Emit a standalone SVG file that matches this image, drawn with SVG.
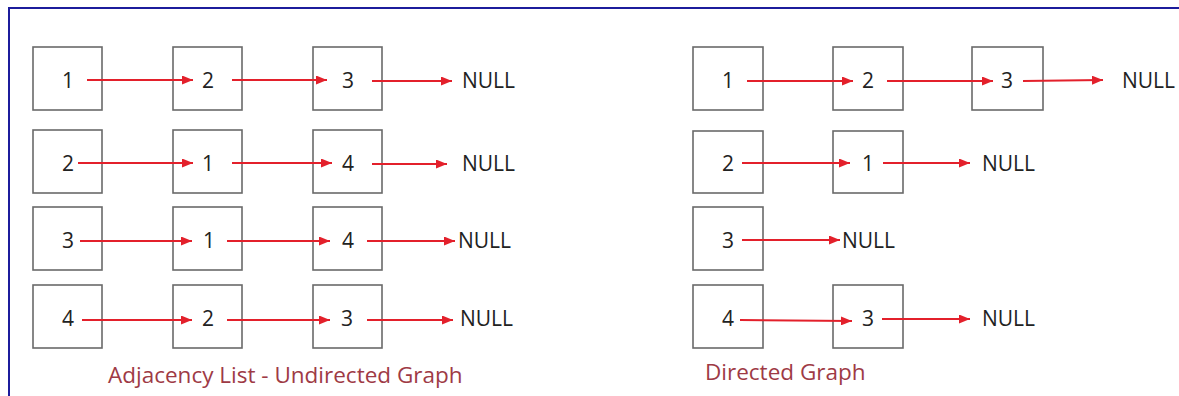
<svg xmlns="http://www.w3.org/2000/svg" width="1179" height="396" viewBox="0 0 1179 396">
<defs>
<marker id="ah" markerWidth="11" markerHeight="9" refX="11" refY="4.5" orient="auto" markerUnits="userSpaceOnUse">
<path d="M0,0 L11,4.5 L0,9 Z" fill="#e3202b"/>
</marker>
<style>
.box{fill:#fff;stroke:#6a6a6a;stroke-width:1.6}
.num{font-family:"Open Sans","Liberation Sans",sans-serif;font-size:21px;fill:#222;text-anchor:middle}
.null{font-family:"Open Sans","Liberation Sans",sans-serif;font-size:21px;fill:#222}
.cap{font-family:"Open Sans","Liberation Sans",sans-serif;font-size:22.5px;fill:#9e3a45}
.arr{stroke:#e3202b;stroke-width:2;fill:none;marker-end:url(#ah)}
</style>
</defs>
<rect width="1179" height="396" fill="#fff"/>
<path d="M9,396 V8 H1179" fill="none" stroke="#1c1c9c" stroke-width="2"/>

<g id="l-r1">
<rect class="box" x="33" y="47" width="69" height="63"/><text class="num" x="68" y="88">1</text>
<rect class="box" x="173" y="47" width="69" height="63"/><text class="num" x="208" y="88">2</text>
<rect class="box" x="313" y="47" width="69" height="63"/><text class="num" x="348" y="88">3</text>
<text class="null" x="462" y="88">NULL</text>
</g>
<g id="l-r2">
<rect class="box" x="33" y="130" width="69" height="63"/><text class="num" x="68" y="171">2</text>
<rect class="box" x="173" y="130" width="69" height="63"/><text class="num" x="208" y="171">1</text>
<rect class="box" x="313" y="130" width="69" height="63"/><text class="num" x="348" y="171">4</text>
<text class="null" x="462" y="171">NULL</text>
</g>
<g id="l-r3">
<rect class="box" x="33" y="207" width="69" height="63"/><text class="num" x="68" y="248">3</text>
<rect class="box" x="173" y="207" width="69" height="63"/><text class="num" x="209" y="248">1</text>
<rect class="box" x="313" y="207" width="69" height="63"/><text class="num" x="348" y="248">4</text>
<text class="null" x="458" y="248">NULL</text>
</g>
<g id="l-r4">
<rect class="box" x="33" y="285" width="69" height="63"/><text class="num" x="68" y="326">4</text>
<rect class="box" x="173" y="285" width="69" height="63"/><text class="num" x="208" y="326">2</text>
<rect class="box" x="313" y="285" width="69" height="63"/><text class="num" x="347" y="326">3</text>
<text class="null" x="460" y="326">NULL</text>
</g>

<g id="r-r1">
<rect class="box" x="693" y="47" width="70" height="63"/><text class="num" x="728" y="88">1</text>
<rect class="box" x="833" y="47" width="70" height="63"/><text class="num" x="868" y="88">2</text>
<rect class="box" x="972" y="47" width="71" height="63"/><text class="num" x="1007" y="88">3</text>
<text class="null" x="1122" y="88">NULL</text>
</g>
<g id="r-r2">
<rect class="box" x="693" y="131" width="70" height="62"/><text class="num" x="728" y="171">2</text>
<rect class="box" x="833" y="131" width="70" height="62"/><text class="num" x="868" y="171">1</text>
<text class="null" x="982" y="171">NULL</text>
</g>
<g id="r-r3">
<rect class="box" x="693" y="207" width="70" height="63"/><text class="num" x="728" y="248">3</text>
<text class="null" x="842" y="248">NULL</text>
</g>
<g id="r-r4">
<rect class="box" x="693" y="285" width="70" height="63"/><text class="num" x="728" y="326">4</text>
<rect class="box" x="833" y="285" width="70" height="63"/><text class="num" x="868" y="326">3</text>
<text class="null" x="982" y="326">NULL</text>
</g>

<g id="connectors">
<line class="arr" x1="87" y1="80" x2="193" y2="80"/>
<line class="arr" x1="232" y1="80" x2="327" y2="80"/>
<line class="arr" x1="372" y1="81" x2="452" y2="81"/>
<line class="arr" x1="78" y1="163" x2="193" y2="163"/>
<line class="arr" x1="232" y1="163" x2="332" y2="163"/>
<line class="arr" x1="372" y1="164" x2="447" y2="164"/>
<line class="arr" x1="80" y1="241" x2="192" y2="241"/>
<line class="arr" x1="227" y1="241" x2="330" y2="241"/>
<line class="arr" x1="367" y1="241" x2="455" y2="241"/>
<line class="arr" x1="82" y1="320" x2="192" y2="320"/>
<line class="arr" x1="227" y1="320" x2="330" y2="320"/>
<line class="arr" x1="367" y1="320" x2="453" y2="320"/>
<line class="arr" x1="747" y1="81" x2="853" y2="81"/>
<line class="arr" x1="887" y1="81" x2="993" y2="81"/>
<line class="arr" x1="1023" y1="81" x2="1103" y2="80"/>
<line class="arr" x1="742" y1="163" x2="850" y2="163"/>
<line class="arr" x1="883" y1="163" x2="970" y2="163"/>
<line class="arr" x1="742" y1="240" x2="840" y2="240"/>
<line class="arr" x1="740" y1="320" x2="852" y2="321"/>
<line class="arr" x1="882" y1="319" x2="970" y2="319"/>
</g>

<g id="captions">
<text class="cap" x="108" y="383">Adjacency List - Undirected Graph</text>
<text class="cap" x="705" y="380">Directed Graph</text>
</g>
</svg>
